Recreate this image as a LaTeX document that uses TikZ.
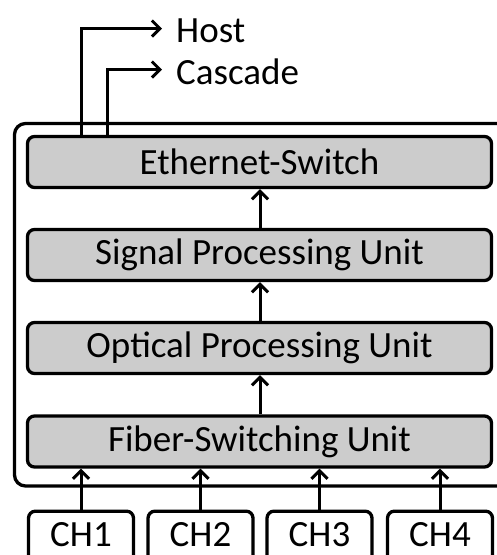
\documentclass[tikz,border=0pt]{standalone}
\usepackage{fontspec}
\setmainfont{Carlito}
\usetikzlibrary{arrows.meta}
\begin{document}
\begin{tikzpicture}[x=1pt,y=-1pt,
  lw/.style={line width=3.3pt},
  unit/.style={lw, draw=black, fill=black!20, rounded corners=7pt, minimum width=464pt, minimum height=51pt, inner sep=0pt, font=\fontsize{37}{40}\selectfont},
  chbox/.style={lw, draw=black, fill=white, rounded corners=7pt, minimum width=105pt, minimum height=60pt, inner sep=0pt, anchor=north},
  chtext/.style={font=\fontsize{37}{40}\selectfont},
  lbl/.style={anchor=west, inner sep=0pt, font=\fontsize{37}{40}\selectfont},
  arr/.style={line width=3pt, -{Straight Barb[length=8pt,width=16pt,line width=3pt]}}
]
\useasboundingbox (0,0) rectangle (497,555);
\clip (0,0) rectangle (497,555);
% outer frame
\draw[lw, rounded corners=11pt] (14.5,123.5) rectangle (520,486);
% units
\node[unit] (es)  at (259.5,162) {Ethernet-Switch};
\node[unit] (spu) at (259.5,255) {Signal Processing Unit};
\node[unit] (opu) at (259.5,348) {Optical Processing Unit};
\node[unit] (fsu) at (259.5,441.5) {Fiber-Switching Unit};
% channels
\node[chbox] (ch1) at (81,509.5) {};
\node[chbox] (ch2) at (200.5,509.5) {};
\node[chbox] (ch3) at (319.5,509.5) {};
\node[chbox] (ch4) at (440,509.5) {};
\node[chtext] (t1) at (81,535) {CH1};
\node[chtext] (t2) at (200.5,535) {CH2};
\node[chtext] (t3) at (319.5,535) {CH3};
\node[chtext] (t4) at (440,535) {CH4};
% labels
\node[lbl] (host) at (176,31) {Host};
\node[lbl] (casc) at (176,72) {Cascade};
\coordinate (hend) at (162,28.5);
\coordinate (cend) at (162,69.5);
% arrows
\draw[arr] (es.north -| 81,0) |- (hend);
\draw[arr] (es.north -| 107,0) |- (cend);
\draw[arr] (spu.north -| 260,0) -- (es.south -| 260,0);
\draw[arr] (opu.north -| 260,0) -- (spu.south -| 260,0);
\draw[arr] (fsu.north -| 260,0) -- (opu.south -| 260,0);
\draw[arr] (ch1.north) -- (fsu.south -| ch1.north);
\draw[arr] (ch2.north) -- (fsu.south -| ch2.north);
\draw[arr] (ch3.north) -- (fsu.south -| ch3.north);
\draw[arr] (ch4.north) -- (fsu.south -| ch4.north);
\end{tikzpicture}
\end{document}
